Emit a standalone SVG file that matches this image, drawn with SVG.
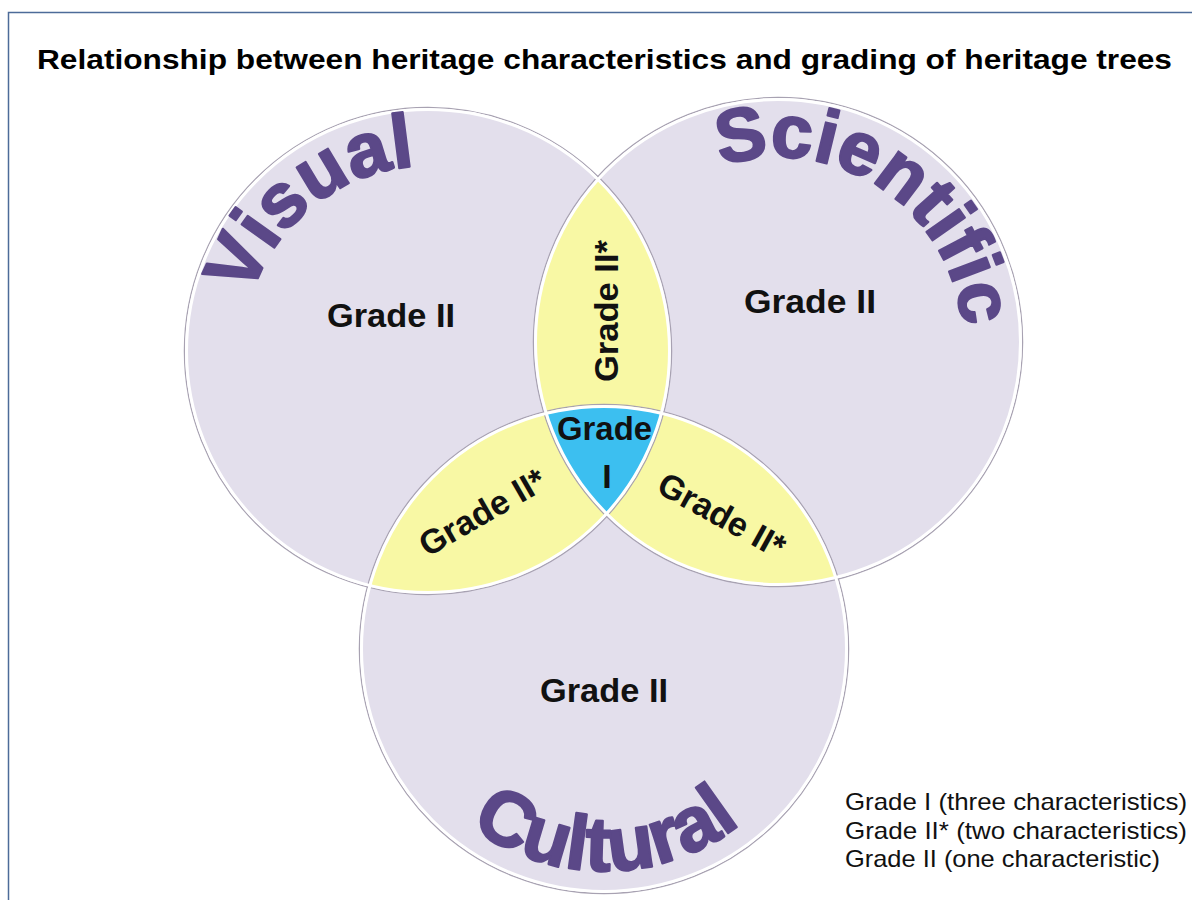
<svg xmlns="http://www.w3.org/2000/svg" width="1192" height="900" viewBox="0 0 1192 900">
  <style>
    .fill { fill: #e3dfec; }
    .yellow { fill: #f8f8a4; }
    .blue { fill: #3cbff0; }
    .rim { fill: none; stroke: #a8a2b2; stroke-width: 1.3; }
    .hl { fill: none; stroke: #ffffff; stroke-width: 3; }
    .lbl { font-family: "Liberation Sans", Arial, sans-serif; font-weight: bold; font-size: 34px; fill: #111; text-anchor: middle; }
    .big { font-family: "Liberation Sans", Arial, sans-serif; font-weight: bold; fill: #5b4888; stroke: #5b4888; stroke-width: 2.2; stroke-linejoin: round; }
    .title { font-family: "Liberation Sans", Arial, sans-serif; font-weight: bold; font-size: 27px; fill: #000; }
    .legend { font-family: "Liberation Sans", Arial, sans-serif; font-size: 24px; fill: #111; }
  </style>
  <defs>
    <clipPath id="cV"><circle cx="428" cy="351" r="242"/></clipPath>
    <clipPath id="cS"><circle cx="778" cy="342" r="243"/></clipPath>
    <clipPath id="cC"><circle cx="604" cy="649" r="243"/></clipPath>
    <path id="pV" d="M 251.1 296.9 A 185 185 0 0 1 520.5 190.8"/>
    <path id="pS" d="M 720.8 166.1 A 185 185 0 0 1 960.2 374.1"/>
    <path id="pC" d="M 470.4 826.3 A 222 222 0 0 0 796.3 760"/>
  </defs>

  <rect x="0" y="0" width="1192" height="900" fill="#ffffff"/>
  <path d="M 8.5 900 L 8.5 12.5 L 1192 12.5" fill="none" stroke="#4d6b99" stroke-width="1.5"/>

  <text class="title" x="37" y="69" textLength="1135" lengthAdjust="spacingAndGlyphs">Relationship between heritage characteristics and grading of heritage trees</text>

  <g id="circle-visual">
    <circle class="fill" cx="428" cy="351" r="242"/>
  </g>
  <g id="circle-scientific">
    <circle class="fill" cx="778" cy="342" r="243"/>
  </g>
  <g id="circle-cultural">
    <circle class="fill" cx="604" cy="649" r="243"/>
  </g>

  <g id="overlap-visual-scientific" clip-path="url(#cV)">
    <circle class="yellow" cx="778" cy="342" r="243"/>
  </g>
  <g id="overlap-visual-cultural" clip-path="url(#cV)">
    <circle class="yellow" cx="604" cy="649" r="243"/>
  </g>
  <g id="overlap-scientific-cultural" clip-path="url(#cS)">
    <circle class="yellow" cx="604" cy="649" r="243"/>
  </g>
  <g id="overlap-all" clip-path="url(#cV)">
    <g clip-path="url(#cS)">
      <circle class="blue" cx="604" cy="649" r="243"/>
    </g>
  </g>

  <g id="outlines">
    <circle class="rim" cx="428" cy="351" r="243.6"/>
    <circle class="rim" cx="778" cy="342" r="244.6"/>
    <circle class="rim" cx="604" cy="649" r="244.6"/>
    <circle class="hl" cx="428" cy="351" r="241.5"/>
    <circle class="hl" cx="778" cy="342" r="242.5"/>
    <circle class="hl" cx="604" cy="649" r="242.5"/>
  </g>

  <g id="label-visual">
    <text class="big" font-size="76"><textPath href="#pV">Visual</textPath></text>
    <text class="lbl" x="391" y="327" textLength="128" lengthAdjust="spacingAndGlyphs">Grade II</text>
  </g>
  <g id="label-scientific">
    <text class="big" font-size="75"><textPath href="#pS">Scientific</textPath></text>
    <text class="lbl" x="810" y="313" textLength="132" lengthAdjust="spacingAndGlyphs">Grade II</text>
  </g>
  <g id="label-cultural">
    <text class="big" font-size="77"><textPath href="#pC">Cultural</textPath></text>
    <text class="lbl" x="604" y="702" textLength="128" lengthAdjust="spacingAndGlyphs">Grade II</text>
  </g>

  <g id="label-vs">
    <text class="lbl" transform="translate(618,311) rotate(-90)" x="0" y="0" textLength="142" lengthAdjust="spacingAndGlyphs">Grade II*</text>
  </g>
  <g id="label-vc">
    <text class="lbl" transform="translate(482,512) rotate(-30)" x="0" y="12" textLength="140" lengthAdjust="spacingAndGlyphs">Grade II*</text>
  </g>
  <g id="label-sc">
    <text class="lbl" transform="translate(722,515) rotate(29)" x="0" y="12" textLength="140" lengthAdjust="spacingAndGlyphs">Grade II*</text>
  </g>
  <g id="label-all">
    <text class="lbl" x="604.5" y="440" textLength="95" lengthAdjust="spacingAndGlyphs">Grade</text>
    <text class="lbl" x="607" y="488">I</text>
  </g>

  <g id="legend">
    <text class="legend" x="845" y="810" textLength="342" lengthAdjust="spacingAndGlyphs">Grade I (three characteristics)</text>
    <text class="legend" x="845" y="839" textLength="342" lengthAdjust="spacingAndGlyphs">Grade II* (two characteristics)</text>
    <text class="legend" x="845" y="867" textLength="315" lengthAdjust="spacingAndGlyphs">Grade II (one characteristic)</text>
  </g>
</svg>
